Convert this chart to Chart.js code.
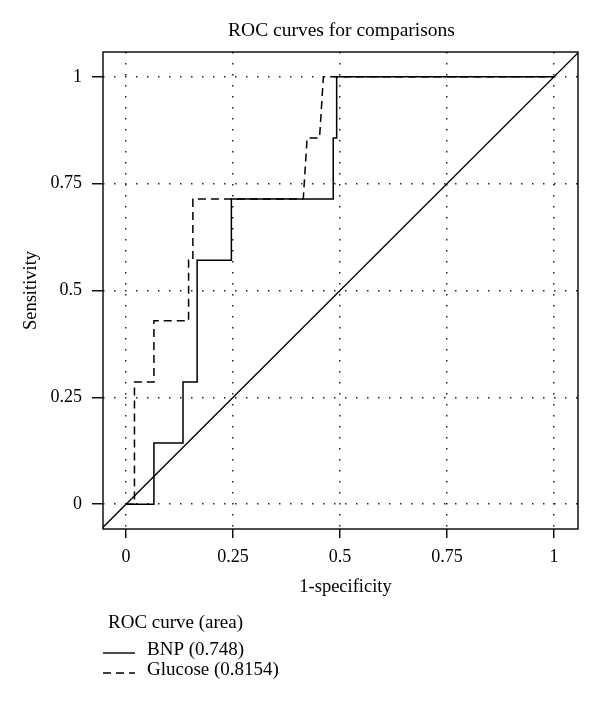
<!DOCTYPE html>
<html>
<head>
<meta charset="utf-8">
<script src="https://cdn.jsdelivr.net/npm/chart.js@4/dist/chart.umd.min.js"></script>
<style>
  html, body { margin: 0; padding: 0; background: #fff; }
  #wrap { width: 600px; height: 704px; }
</style>
</head>
<body>
<div id="wrap"><canvas id="c" width="600" height="704"></canvas></div>
<script>
// ---- data ----
const chartTitle = "ROC curves for comparisons";
const xAxisTitle = "1-specificity";
const yAxisTitle = "Sensitivity";
const xTicks = [0, 0.25, 0.5, 0.75, 1];
const xTickLabels = ["0", "0.25", "0.5", "0.75", "1"];
const yTicks = [0, 0.25, 0.5, 0.75, 1];
const yTickLabels = ["0", "0.25", "0.5", "0.75", "1"];
const xRange = [-0.054, 1.056];
const yRange = [-0.058, 1.058];

const bnpX = [0, 0.065, 0.065, 0.133, 0.133, 0.166, 0.166, 0.246, 0.246, 0.484, 0.484, 0.492, 0.492, 1];
const bnpY = [0, 0, 0.143, 0.143, 0.286, 0.286, 0.571, 0.571, 0.714, 0.714, 0.857, 0.857, 1, 1];
const gluX = [0, 0.0195, 0.0195, 0.065, 0.065, 0.146, 0.146, 0.156, 0.156, 0.414, 0.423, 0.452, 0.461, 1];
const gluY = [0, 0, 0.286, 0.286, 0.429, 0.429, 0.571, 0.571, 0.714, 0.714, 0.857, 0.857, 1, 1];
const refX = [-0.1, 1.1];
const refY = [-0.1, 1.1];

const legendHeading = "ROC curve (area)";
const seriesNames = ["BNP (0.748)", "Glucose (0.8154)"];
const seriesDash = [[], [8, 5]];

const FONT = "Liberation Serif";

function pts(xs, ys) { return xs.map((x, i) => ({ x: x, y: ys[i] })); }

const decor = {
  id: 'decor',
  afterDraw(chart) {
    const ctx = chart.ctx;
    const a = chart.chartArea;
    ctx.save();
    // box
    ctx.strokeStyle = '#000';
    ctx.lineWidth = 1.4;
    ctx.strokeRect(a.left, a.top, a.right - a.left, a.bottom - a.top);
    // title
    ctx.fillStyle = '#000';
    ctx.font = '19.5px "' + FONT + '"';
    ctx.textAlign = 'center';
    ctx.textBaseline = 'middle';
    ctx.fillText(chartTitle, (a.left + a.right) / 2 + 1, a.top - 21);
    // x axis title
    ctx.font = '18.5px "' + FONT + '"';
    ctx.fillText(xAxisTitle, (a.left + a.right) / 2 + 5, a.bottom + 58);
    // legend
    ctx.font = '19px "' + FONT + '"';
    ctx.textAlign = 'left';
    ctx.fillText(legendHeading, a.left + 5, a.bottom + 94);
    seriesNames.forEach((name, i) => {
      const y = a.bottom + 121 + i * 20;
      ctx.beginPath();
      ctx.setLineDash(seriesDash[i]);
      ctx.lineWidth = 1.4;
      ctx.moveTo(a.left, y + 3);
      ctx.lineTo(a.left + 32, y + 3);
      ctx.stroke();
      ctx.setLineDash([]);
      ctx.fillText(name, a.left + 44, y);
    });
    ctx.restore();
  }
};

const gridCommon = {
  color: '#222',
  lineWidth: 1.5,
  borderDash: [1.5, 9.5],
  tickColor: '#000',
  tickWidth: 1.4,
  tickBorderDash: [],
};

new Chart(document.getElementById('c'), {
  type: 'scatter',
  data: {
    datasets: [
      { label: seriesNames[0], data: pts(bnpX, bnpY), showLine: true, borderColor: '#000', borderWidth: 1.5, pointRadius: 0, borderDash: seriesDash[0] },
      { label: seriesNames[1], data: pts(gluX, gluY), showLine: true, borderColor: '#000', borderWidth: 1.5, pointRadius: 0, borderDash: seriesDash[1] },
      { label: 'reference', data: pts(refX, refY), showLine: true, borderColor: '#000', borderWidth: 1.3, pointRadius: 0 }
    ]
  },
  options: {
    responsive: false,
    animation: false,
    layout: { padding: { top: 52, right: 22, bottom: 105, left: 0 } },
    plugins: { legend: { display: false }, tooltip: { enabled: false }, title: { display: false } },
    scales: {
      x: {
        type: 'linear', min: xRange[0], max: xRange[1],
        afterBuildTicks: s => { s.ticks = xTicks.map(v => ({ value: v })); },
        afterFit: s => { s.height = 70; },
        ticks: { callback: (v, i) => xTickLabels[i], color: '#000', font: { family: FONT, size: 18 }, padding: 8, maxRotation: 0 },
        grid: Object.assign({}, gridCommon, { tickLength: 9 }),
        border: { display: false, dash: [1.5, 9.5] },
        title: { display: false, text: xAxisTitle }
      },
      y: {
        type: 'linear', min: yRange[0], max: yRange[1],
        afterBuildTicks: s => { s.ticks = yTicks.map(v => ({ value: v })); },
        afterFit: s => { s.width = 103; },
        ticks: { callback: (v, i) => yTickLabels[i], color: '#000', font: { family: FONT, size: 18 }, padding: 10 },
        grid: Object.assign({}, gridCommon, { tickLength: 11 }),
        border: { display: false, dash: [1.5, 9.5] },
        title: { display: true, text: yAxisTitle, color: '#000', font: { family: FONT, size: 18.5 }, padding: { top: 20, bottom: 0 } }
      }
    }
  },
  plugins: [decor]
});
</script>
</body>
</html>
